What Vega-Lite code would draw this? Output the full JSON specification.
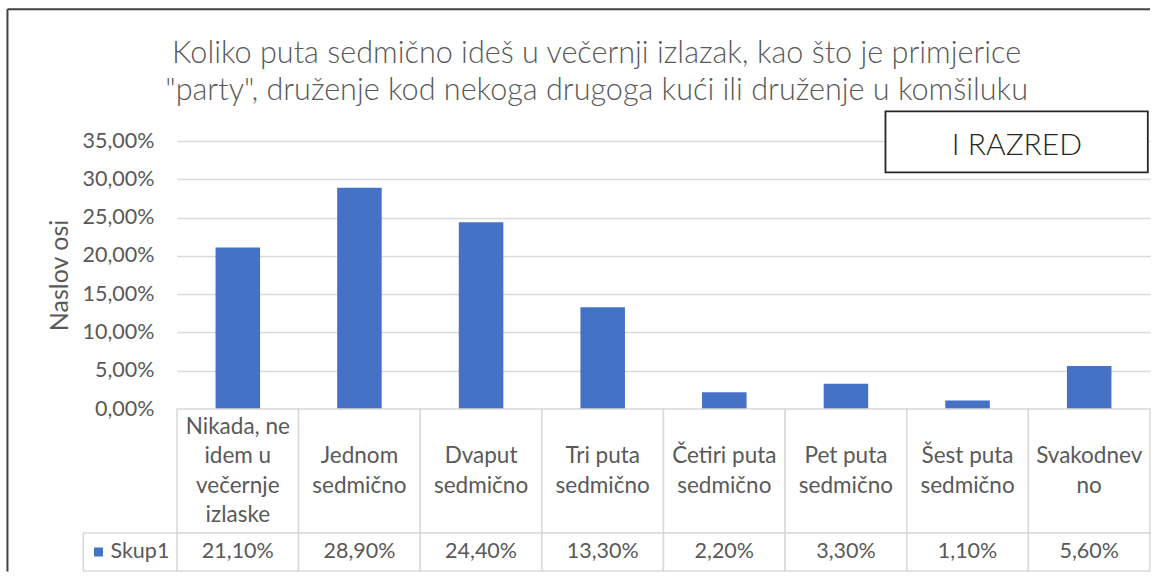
{
  "$schema": "https://vega.github.io/schema/vega-lite/v6.json",
  "autosize": {"type": "pad"},
  "padding": {"left": 6, "top": 8, "right": 0, "bottom": 0},
  "background": "white",
  "spacing": 0,
  "bounds": "flush",
  "config": {
    "locale": {"number": {"decimal": ",", "thousands": ".", "grouping": [3], "currency": ["", " €"]}},
    "font": "Lato",
    "view": {"stroke": null}
  },
  "datasets": {
    "d": [
      {"kat": "Nikada, ne\nidem u\nvečernje\nizlaske", "v": 0.211},
      {"kat": "Jednom\nsedmično", "v": 0.289},
      {"kat": "Dvaput\nsedmično", "v": 0.244},
      {"kat": "Tri puta\nsedmično", "v": 0.133},
      {"kat": "Četiri puta\nsedmično", "v": 0.022},
      {"kat": "Pet puta\nsedmično", "v": 0.033},
      {"kat": "Šest puta\nsedmično", "v": 0.011},
      {"kat": "Svakodnev\nno", "v": 0.056}
    ]
  },
  "vconcat": [
    {
      "width": 973,
      "height": 268,
      "data": {"name": "d"},
      "layer": [
        {
          "mark": {"type": "bar", "color": "#4472C4"},
          "encoding": {
            "x": {"field": "kat", "type": "nominal", "sort": null, "axis": null,
                  "scale": {"type": "band", "paddingInner": 0.634, "paddingOuter": 0.317}},
            "y": {"field": "v", "type": "quantitative",
                  "scale": {"domain": [0, 0.35], "nice": false, "zero": true},
                  "axis": {
                    "values": [0, 0.05, 0.1, 0.15, 0.2, 0.25, 0.3, 0.35],
                    "format": ".2%",
                    "labelExpr": "replace(datum.label, '.', ',')",
                    "labelOverlap": false,
                    "labelFont": "Lato", "labelFontSize": 21.5, "labelColor": "#595959",
                    "labelFontWeight": "normal",
                    "labelPadding": 23, "ticks": false, "domain": false,
                    "grid": true, "gridColor": "#d9d9d9", "gridWidth": 1.5,
                    "title": "Naslov osi", "titleFont": "Lato", "titleFontSize": 25,
                    "titleFontWeight": "normal", "titleColor": "#595959", "titlePadding": 10
                  }}
          }
        },
        {
          "data": {"values": [{}]},
          "mark": {"type": "rule", "stroke": "#404040", "strokeWidth": 2},
          "encoding": {
            "x": {"datum": -1.394, "type": "quantitative", "scale": {"domain": [0, 8], "nice": false, "zero": false}, "axis": null},
            "x2": {"datum": 8.0},
            "y": {"datum": 0.522, "type": "quantitative", "scale": {"domain": [0, 0.35], "nice": false, "zero": false}, "axis": null}
          }
        },
        {
          "data": {"values": [{}]},
          "mark": {"type": "rule", "stroke": "#404040", "strokeWidth": 2},
          "encoding": {
            "x": {"datum": -1.394, "type": "quantitative", "scale": {"domain": [0, 8], "nice": false, "zero": false}, "axis": null},
            "y": {"datum": 0.522, "type": "quantitative", "scale": {"domain": [0, 0.35], "nice": false, "zero": false}, "axis": null},
            "y2": {"datum": -0.2122}
          }
        },
        {
          "data": {"values": [{}]},
          "mark": {"type": "text", "text": ["Koliko puta sedmično ideš u večernji izlazak, kao što je primjerice", "\"party\", druženje kod nekoga drugoga kući ili druženje u komšiluku"],
                   "font": "Lato", "fontWeight": 300, "fontSize": 30.6, "color": "#595959",
                   "align": "center", "baseline": "alphabetic", "lineHeight": 37},
          "encoding": {
            "x": {"datum": 3.45, "type": "quantitative", "scale": {"domain": [0, 8], "nice": false, "zero": false}, "axis": null},
            "y": {"datum": 0.4521, "type": "quantitative", "scale": {"domain": [0, 0.35], "nice": false, "zero": false}, "axis": null}
          }
        },
        {
          "data": {"values": [{}]},
          "mark": {"type": "rect", "fill": "white", "stroke": "#262626", "strokeWidth": 1.8},
          "encoding": {
            "x": {"datum": 5.825, "type": "quantitative", "scale": {"domain": [0, 8], "nice": false, "zero": false}, "axis": null},
            "x2": {"datum": 7.982},
            "y": {"datum": 0.3888, "type": "quantitative", "scale": {"domain": [0, 0.35], "nice": false, "zero": false}, "axis": null},
            "y2": {"datum": 0.3091}
          }
        },
        {
          "data": {"values": [{}]},
          "mark": {"type": "text", "text": "I RAZRED", "font": "Lato", "fontWeight": 300, "fontSize": 30,
                   "color": "#262626", "align": "center", "baseline": "alphabetic"},
          "encoding": {
            "x": {"datum": 6.906, "type": "quantitative", "scale": {"domain": [0, 8], "nice": false, "zero": false}, "axis": null},
            "y": {"datum": 0.3313, "type": "quantitative", "scale": {"domain": [0, 0.35], "nice": false, "zero": false}, "axis": null}
          }
        }
      ],
      "resolve": {"scale": {"x": "independent", "y": "independent"}}
    },
    {
      "width": 973,
      "height": 124,
      "data": {"name": "d"},
      "layer": [
        {
          "mark": {"type": "rect", "fill": "white", "stroke": "#d9d9d9", "strokeWidth": 1.5},
          "encoding": {
            "x": {"field": "kat", "type": "nominal", "sort": null, "axis": null,
                  "scale": {"type": "band", "paddingInner": 0, "paddingOuter": 0}}
          }
        },
        {
          "transform": [{"filter": "length(split(datum.kat, '\\n')) == 4"}],
          "mark": {"type": "text", "lineBreak": "\n", "lineHeight": 29.5, "font": "Lato",
                   "fontSize": 22.5, "color": "#595959", "baseline": "middle", "align": "center", "dy": -44.25},
          "encoding": {
            "x": {"field": "kat", "type": "nominal", "sort": null, "axis": null,
                  "scale": {"type": "band", "paddingInner": 0, "paddingOuter": 0}},
            "text": {"field": "kat"}
          }
        },
        {
          "transform": [{"filter": "length(split(datum.kat, '\\n')) == 2"}],
          "mark": {"type": "text", "lineBreak": "\n", "lineHeight": 29.5, "font": "Lato",
                   "fontSize": 22.5, "color": "#595959", "baseline": "middle", "align": "center", "dy": -14.75},
          "encoding": {
            "x": {"field": "kat", "type": "nominal", "sort": null, "axis": null,
                  "scale": {"type": "band", "paddingInner": 0, "paddingOuter": 0}},
            "text": {"field": "kat"}
          }
        }
      ]
    },
    {
      "width": 973,
      "height": 38,
      "data": {"name": "d"},
      "layer": [
        {
          "mark": {"type": "rect", "fill": "white", "stroke": "#d9d9d9", "strokeWidth": 1.5},
          "encoding": {
            "x": {"field": "kat", "type": "nominal", "sort": null, "axis": null,
                  "scale": {"type": "band", "paddingInner": 0, "paddingOuter": 0}}
          }
        },
        {
          "mark": {"type": "text", "font": "Lato", "fontSize": 21.5, "color": "#595959",
                   "baseline": "middle", "align": "center"},
          "encoding": {
            "x": {"field": "kat", "type": "nominal", "sort": null, "axis": null,
                  "scale": {"type": "band", "paddingInner": 0, "paddingOuter": 0}},
            "text": {"field": "v", "type": "quantitative", "format": ".2%"}
          }
        },
        {
          "data": {"values": [{"serija": "Skup1"}]},
          "mark": {"type": "rect", "fill": "white", "stroke": "#d9d9d9", "strokeWidth": 1.5},
          "encoding": {
            "x": {"datum": -0.771, "type": "quantitative", "scale": {"domain": [0, 8], "nice": false, "zero": false}, "axis": null},
            "x2": {"datum": 0}
          }
        },
        {
          "data": {"values": [{"serija": "Skup1"}]},
          "mark": {"type": "point", "shape": "square", "filled": true, "size": 81, "color": "#4472C4", "opacity": 1},
          "encoding": {
            "x": {"datum": -0.645, "type": "quantitative", "scale": {"domain": [0, 8], "nice": false, "zero": false}, "axis": null}
          }
        },
        {
          "data": {"values": [{"serija": "Skup1"}]},
          "mark": {"type": "text", "font": "Lato", "fontSize": 21.5, "color": "#595959",
                   "baseline": "middle", "align": "left"},
          "encoding": {
            "x": {"datum": -0.547, "type": "quantitative", "scale": {"domain": [0, 8], "nice": false, "zero": false}, "axis": null},
            "text": {"field": "serija"}
          }
        }
      ],
      "resolve": {"scale": {"x": "independent"}}
    }
  ]
}
